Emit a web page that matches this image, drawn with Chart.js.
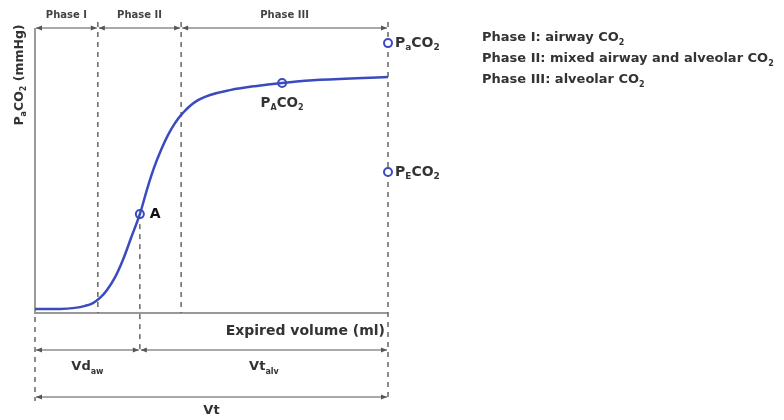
<!DOCTYPE html>
<html>
<head>
    <title>Capnogram</title>
    <script src="https://cdn.jsdelivr.net/npm/chart.js"></script>
    <style>
        body {
            margin: 0;
            background: white;
        }
        .chart-container {
            width: 784px;
            height: 420px;
        }
    </style>
</head>
<body>
    <div class="chart-container">
        <canvas id="myChart"></canvas>
    </div>
    <script>
        // Expired CO2 curve (volume in % of Vt, PCO2 in % of scale)
        const curveVolume = [0, 7.1, 11.3, 14.2, 16.4, 18.4, 20.4, 22.7, 24.9, 27.2, 29.7, 31.7, 33.7, 35.7, 37.7, 39.7, 41.6, 45.3, 49.6, 55.2, 62.3, 70, 80.7, 100];
        const curvePco2 = [1.4, 1.4, 1.8, 2.5, 3.5, 5.3, 8.1, 12.6, 18.6, 26.3, 34.7, 43.2, 50.9, 57.2, 62.5, 66.7, 69.8, 74.0, 76.5, 78.2, 79.6, 80.7, 81.8, 82.8];

        // Marked points: A, alveolar, arterial, mixed expired
        const markerVolume = [29.7, 70, 100, 100];
        const markerPco2 = [34.7, 80.7, 94.7, 49.5];

        // Phase boundaries along the volume axis
        const phaseNames = ['Phase I', 'Phase II', 'Phase III'];
        const phaseEdges = [0, 17.8, 41.4, 100];
        const deadSpaceEnd = 29.7;

        const legendLines = [
            ['Phase I: airway CO', '2'],
            ['Phase II: mixed airway and alveolar CO', '2'],
            ['Phase III: alveolar CO', '2']
        ];

        const blue = '#3a4bc0';
        const dark = '#333';
        const dashGray = '#666';
        const family = '"DejaVu Sans", Arial, sans-serif';

        // text with subscripts: parts = [[text, isSub], ...]
        function drawParts(ctx, parts, x, y, size, align) {
            const big = 'bold ' + size + 'px ' + family;
            const small = 'bold ' + Math.round(size * 0.62) + 'px ' + family;
            let w = 0;
            parts.forEach(p => {
                ctx.font = p[1] ? small : big;
                w += ctx.measureText(p[0]).width;
            });
            let cx = align === 'center' ? x - w / 2 : align === 'right' ? x - w : x;
            ctx.textAlign = 'left';
            ctx.textBaseline = 'middle';
            parts.forEach(p => {
                ctx.font = p[1] ? small : big;
                ctx.fillText(p[0], cx, p[1] ? y + size * 0.35 : y);
                cx += ctx.measureText(p[0]).width;
            });
        }

        function arrowHead(ctx, x, y, dir) {
            ctx.beginPath();
            ctx.moveTo(x, y);
            ctx.lineTo(x - dir * 6, y - 2.5);
            ctx.lineTo(x - dir * 6, y + 2.5);
            ctx.closePath();
            ctx.fill();
        }

        function dimArrow(ctx, x1, x2, y) {
            ctx.beginPath();
            ctx.moveTo(x1 + 1, y);
            ctx.lineTo(x2 - 1, y);
            ctx.stroke();
            arrowHead(ctx, x1 + 1, y, -1);
            arrowHead(ctx, x2 - 1, y, 1);
        }

        function vDash(ctx, x, y1, y2) {
            ctx.beginPath();
            ctx.moveTo(x, y1);
            ctx.lineTo(x, y2);
            ctx.stroke();
        }

        const capnoDiagram = {
            id: 'capnoDiagram',
            beforeDatasetsDraw(chart) {
                const ctx = chart.ctx;
                const xs = chart.scales.x;
                const ys = chart.scales.y;
                const area = chart.chartArea;
                ctx.save();

                // axes
                ctx.strokeStyle = '#999';
                ctx.lineWidth = 2;
                ctx.beginPath();
                ctx.moveTo(area.left, area.top);
                ctx.lineTo(area.left, area.bottom);
                ctx.lineTo(area.right, area.bottom);
                ctx.stroke();

                // dashed guides
                ctx.strokeStyle = dashGray;
                ctx.lineWidth = 1.5;
                ctx.setLineDash([5, 5]);
                vDash(ctx, area.left, area.bottom + 4, area.bottom + 88);
                vDash(ctx, xs.getPixelForValue(phaseEdges[1]), area.top - 6, area.bottom);
                vDash(ctx, xs.getPixelForValue(phaseEdges[2]), area.top - 6, area.bottom);
                vDash(ctx, xs.getPixelForValue(phaseEdges[3]), area.top - 6, area.bottom + 88);
                vDash(ctx, xs.getPixelForValue(deadSpaceEnd), ys.getPixelForValue(markerPco2[0]), area.bottom + 38);
                ctx.setLineDash([]);

                // dimension arrows
                ctx.strokeStyle = '#555';
                ctx.fillStyle = '#555';
                ctx.lineWidth = 1;
                for (let i = 0; i < 3; i++) {
                    dimArrow(ctx, xs.getPixelForValue(phaseEdges[i]), xs.getPixelForValue(phaseEdges[i + 1]), area.top);
                }
                const rowVd = area.bottom + 37;
                const rowVt = area.bottom + 84;
                dimArrow(ctx, area.left, xs.getPixelForValue(deadSpaceEnd), rowVd);
                dimArrow(ctx, xs.getPixelForValue(deadSpaceEnd), area.right, rowVd);
                dimArrow(ctx, area.left, area.right, rowVt);
                ctx.restore();
            },
            afterDatasetsDraw(chart) {
                const ctx = chart.ctx;
                const xs = chart.scales.x;
                const ys = chart.scales.y;
                const area = chart.chartArea;
                ctx.save();

                // phase headers
                ctx.fillStyle = '#444';
                for (let i = 0; i < 3; i++) {
                    const mid = (xs.getPixelForValue(phaseEdges[i]) + xs.getPixelForValue(phaseEdges[i + 1])) / 2;
                    drawParts(ctx, [[phaseNames[i], 0]], mid, area.top - 13, 10, 'center');
                }

                ctx.fillStyle = dark;
                // axis titles
                drawParts(ctx, [['Expired volume (ml)', 0]], area.right - 3, area.bottom + 18, 14, 'right');
                ctx.save();
                ctx.translate(20, area.top + 47);
                ctx.rotate(-Math.PI / 2);
                drawParts(ctx, [['P', 0], ['a', 1], ['CO', 0], ['2', 1], [' (mmHg)', 0]], 0, 0, 12.5, 'center');
                ctx.restore();

                // volume labels
                const vdMid = (area.left + xs.getPixelForValue(deadSpaceEnd)) / 2;
                const vtMid = (xs.getPixelForValue(deadSpaceEnd) + area.right) / 2;
                drawParts(ctx, [['Vd', 0], ['aw', 1]], vdMid, area.bottom + 54, 13, 'center');
                drawParts(ctx, [['Vt', 0], ['alv', 1]], vtMid, area.bottom + 54, 13, 'center');
                drawParts(ctx, [['Vt', 0]], (area.left + area.right) / 2, area.bottom + 98, 13, 'center');

                // point labels
                const px = i => xs.getPixelForValue(markerVolume[i]);
                const py = i => ys.getPixelForValue(markerPco2[i]);
                ctx.fillStyle = '#111';
                drawParts(ctx, [['A', 0]], px(0) + 10, py(0), 14, 'left');
                ctx.fillStyle = dark;
                drawParts(ctx, [['P', 0], ['A', 1], ['CO', 0], ['2', 1]], px(1), py(1) + 20, 13.5, 'center');
                drawParts(ctx, [['P', 0], ['a', 1], ['CO', 0], ['2', 1]], px(2) + 7, py(2), 14, 'left');
                drawParts(ctx, [['P', 0], ['E', 1], ['CO', 0], ['2', 1]], px(3) + 7, py(3), 14, 'left');

                // phase legend
                ctx.fillStyle = dark;
                legendLines.forEach((line, i) => {
                    drawParts(ctx, [[line[0], 0], [line[1], 1]], 482, 38 + i * 21, 13, 'left');
                });
                ctx.restore();
            }
        };

        const ctx = document.getElementById('myChart').getContext('2d');
        new Chart(ctx, {
            type: 'scatter',
            data: {
                datasets: [
                    {
                        data: curveVolume.map((v, i) => ({ x: v, y: curvePco2[i] })),
                        showLine: true,
                        borderColor: blue,
                        borderWidth: 2.5,
                        pointRadius: 0,
                        tension: 0.4
                    },
                    {
                        data: markerVolume.map((v, i) => ({ x: v, y: markerPco2[i] })),
                        showLine: false,
                        pointRadius: 4,
                        pointBorderWidth: 2,
                        pointBorderColor: blue,
                        pointBackgroundColor: 'white',
                        clip: false
                    }
                ]
            },
            options: {
                responsive: true,
                maintainAspectRatio: false,
                animation: false,
                layout: {
                    padding: { left: 35, top: 28, right: 396, bottom: 107 }
                },
                plugins: {
                    legend: { display: false },
                    tooltip: { enabled: false }
                },
                scales: {
                    x: { type: 'linear', min: 0, max: 100, display: false },
                    y: { type: 'linear', min: 0, max: 100, display: false }
                }
            },
            plugins: [capnoDiagram]
        });
    </script>
</body>
</html>
